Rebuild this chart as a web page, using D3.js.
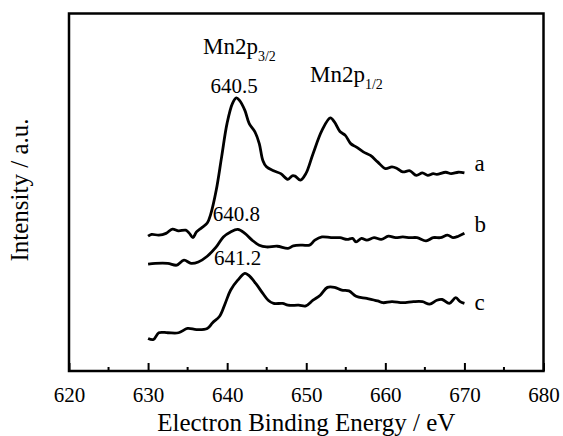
<!DOCTYPE html>
<html>
<head>
<meta charset="utf-8">
<script src="https://cdn.jsdelivr.net/npm/d3@7"></script>
<style>
  body { margin: 0; background: #fff; }
</style>
</head>
<body>
<svg id="xps" width="563" height="436"></svg>
<script>
// binding energy (eV) and intensity (a.u.)
const energyA = [630.0,630.45,631.36,632.27,633.08,633.85,634.76,635.22,635.67,636.12,636.8,637.48,637.94,638.62,639.3,639.98,640.66,641.16,641.56,642.24,642.79,643.51,644.06,644.51,644.97,645.87,646.78,647.69,648.23,648.59,649.27,649.95,650.86,651.99,653.04,653.58,654.26,654.94,655.62,656.3,657.21,658.12,659.02,660.02,660.84,661.52,662.2,663.11,663.92,664.69,665.37,666.05,666.51,667.64,668.32,669.23,670.0]
const intensityA = [37.7,38.2,38.0,38.5,39.7,39.2,39.4,38.5,37.3,38.9,40.1,41.4,44.0,50.6,59.9,69.2,74.8,76.4,75.7,72.9,69.2,66.9,63.6,58.9,57.1,56.0,55.2,53.6,54.6,54.5,53.4,55.2,60.8,67.3,70.8,69.6,67.0,65.9,63.6,62.7,61.3,60.3,58.5,56.6,57.1,56.6,55.7,56.0,54.7,55.4,54.7,55.2,55.0,55.6,55.2,55.6,55.4]

const energyB = [630.0,630.91,632.49,633.63,634.54,635.44,636.35,637.48,638.62,639.52,640.43,641.34,642.24,643.15,644.06,644.97,646.33,647.69,648.37,649.5,650.41,651.09,651.99,653.13,654.26,655.17,655.85,656.3,656.98,657.66,658.57,659.48,660.38,661.29,662.2,663.11,664.01,665.15,666.05,666.96,667.87,668.55,669.23,670.0]
const intensityB = [29.9,30.1,30.1,29.6,31.0,30.1,30.5,32.1,34.7,37.5,38.9,39.6,38.5,36.6,35.2,34.7,34.9,34.3,35.0,35.2,35.2,36.6,37.5,37.3,37.3,36.8,37.1,36.1,37.1,36.6,37.3,36.8,37.7,37.3,37.5,37.3,37.3,36.4,37.3,37.3,38.0,37.3,37.7,38.5]

const energyC = [630.0,630.68,631.36,632.49,633.85,634.99,636.12,637.48,638.16,639.07,639.75,640.43,641.34,642.24,642.7,643.61,644.51,645.19,645.87,647.01,647.69,649.05,649.95,650.86,651.77,652.68,653.58,654.49,655.4,656.3,657.66,659.02,659.7,660.84,662.2,663.56,664.69,665.6,666.51,667.19,668.09,668.91,669.46,670.0]
const intensityC = [9.1,8.8,10.7,10.7,10.7,11.9,11.6,11.9,13.5,15.4,18.9,22.6,25.4,27.3,26.8,24.5,21.7,19.8,18.9,18.9,18.4,18.4,18.2,19.8,21.2,23.4,23.4,22.6,22.4,20.9,20.3,19.6,19.1,19.4,19.1,19.4,19.4,18.7,19.8,20.0,18.9,20.5,19.4,18.9]

const seriesNames = ['a', 'b', 'c']
const peakLabels = ['640.5', '640.8', '641.2']
const xTicks = [620, 630, 640, 650, 660, 670, 680]

const series = [
  { name: seriesNames[0], x: energyA, y: intensityA },
  { name: seriesNames[1], x: energyB, y: intensityB },
  { name: seriesNames[2], x: energyC, y: intensityC }
]

const FONT = '"Liberation Serif"'

const svg = d3.select('#xps')
const mLeft = 69, mRight = 543.5, mTop = 13.5, mBottom = 371

const x = d3.scaleLinear().domain([620, 680]).range([mLeft, mRight])
const y = d3.scaleLinear().domain([0, 100]).range([mBottom, mTop])

// curves
const line = d3.line()
  .x(d => x(d[0]))
  .y(d => y(d[1]))
  .curve(d3.curveCatmullRom.alpha(0.5))

svg.append('g').selectAll('path')
  .data(series)
  .enter()
  .append('path')
  .attr('d', s => line(d3.zip(s.x, s.y)))
  .attr('fill', 'none')
  .attr('stroke', '#000')
  .attr('stroke-width', 2.8)
  .attr('stroke-linejoin', 'round')

// curve names at the right end
svg.append('g').selectAll('text')
  .data(series)
  .enter()
  .append('text')
  .attr('x', s => x(s.x[s.x.length - 1]) + 10)
  .attr('y', (s, i) => y(s.y[s.y.length - 1]) + [-2, -1, 7][i])
  .style('font-family', FONT)
  .attr('font-size', 23)
  .text(s => s.name)

// peak positions
const peakY = [93, 221, 265]
svg.append('g').selectAll('text')
  .data(peakLabels)
  .enter()
  .append('text')
  .attr('x', (d, i) => x(+d) + [3, 3, 1][i])
  .attr('y', (d, i) => peakY[i])
  .attr('text-anchor', 'middle')
  .style('font-family', FONT)
  .attr('font-size', 21)
  .text(d => d)

// Mn 2p labels
const mn32 = svg.append('text').attr('x', 203).attr('y', 54).style('font-family', FONT).attr('font-size', 23)
mn32.append('tspan').text('Mn2p')
mn32.append('tspan').attr('font-size', 14).attr('dy', 7).text('3/2')

const mn12 = svg.append('text').attr('x', 310).attr('y', 82).style('font-family', FONT).attr('font-size', 23)
mn12.append('tspan').text('Mn2p')
mn12.append('tspan').attr('font-size', 14).attr('dy', 7).text('1/2')

// bottom axis, ticks pointing inward
const xAxis = d3.axisBottom(x).tickValues(xTicks).tickSize(-8).tickPadding(16).tickFormat(d3.format('d'))
const gx = svg.append('g').attr('transform', `translate(0,${mBottom})`).call(xAxis)
gx.attr('font-size', 21)
gx.select('.domain').remove()
gx.selectAll('line').attr('stroke', '#000').attr('stroke-width', 2)
gx.selectAll('text').attr('fill', '#000').style('font-family', FONT)

const minor = d3.range(625, 680, 10)
svg.append('g').selectAll('line')
  .data(minor)
  .enter()
  .append('line')
  .attr('x1', d => x(d)).attr('x2', d => x(d))
  .attr('y1', mBottom).attr('y2', mBottom - 4)
  .attr('stroke', '#000').attr('stroke-width', 2)

// frame
svg.append('rect')
  .attr('x', mLeft).attr('y', mTop)
  .attr('width', mRight - mLeft).attr('height', mBottom - mTop)
  .attr('fill', 'none').attr('stroke', '#000').attr('stroke-width', 2.5)

// axis titles
svg.append('text')
  .attr('x', (mLeft + mRight) / 2).attr('y', 431)
  .attr('text-anchor', 'middle').style('font-family', FONT).attr('font-size', 25)
  .text('Electron Binding Energy / eV')

svg.append('text')
  .attr('transform', 'translate(28,190) rotate(-90)')
  .attr('text-anchor', 'middle').style('font-family', FONT).attr('font-size', 25)
  .text('Intensity / a.u.')
</script>
</body>
</html>
